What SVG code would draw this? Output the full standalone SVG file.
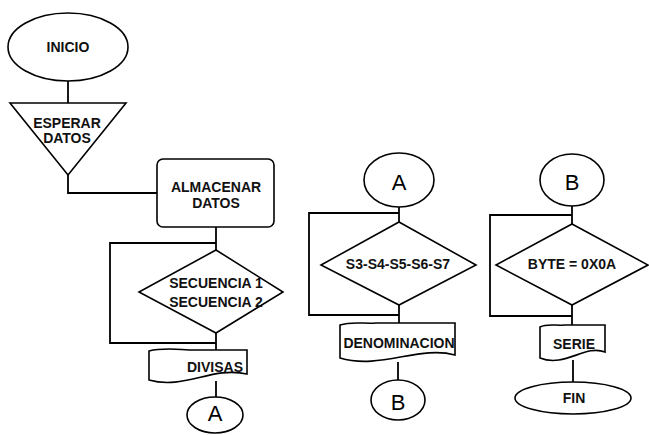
<svg xmlns="http://www.w3.org/2000/svg" width="649" height="435" viewBox="0 0 649 435">
<style>
.s{fill:#fff;stroke:#000;stroke-width:1.6}
.c{fill:none;stroke:#000;stroke-width:1.8}
.t{font-family:"Liberation Sans",Arial,sans-serif;font-size:14px;font-weight:bold;fill:#111;text-anchor:middle}
.b{font-family:"Liberation Sans",Arial,sans-serif;font-size:22px;fill:#000;text-anchor:middle}
</style>
<rect width="649" height="435" fill="#fff"/>
<g id="connectors">
<path class="c" d="M68,80 V103"/>
<path class="c" d="M68,175 V193 H157"/>
<path class="c" d="M216,227 V250"/>
<path class="c" d="M216,243 H110 V343 H216"/>
<path class="c" d="M216,333 V351"/>
<path class="c" d="M216,381 V397"/>
<path class="c" d="M399,207 V222"/>
<path class="c" d="M399,213 H309 V315 H399"/>
<path class="c" d="M399,305 V324"/>
<path class="c" d="M398,362 V380"/>
<path class="c" d="M572,206 V224"/>
<path class="c" d="M572,215 H490 V316 H572"/>
<path class="c" d="M572,305 V326"/>
<path class="c" d="M573,360 V382"/>
</g>
<g id="inicio"><ellipse class="s" cx="68" cy="47" rx="60" ry="34"/><text class="t" x="68" y="52">INICIO</text></g>
<g id="esperar"><polygon class="s" points="10,103 126,103 68,175"/><text class="t" x="67" y="128">ESPERAR</text><text class="t" x="67" y="143">DATOS</text></g>
<g id="almacenar"><rect class="s" x="157" y="159" width="117" height="68" rx="6"/><text class="t" x="216" y="192">ALMACENAR</text><text class="t" x="216" y="208">DATOS</text></g>
<g id="secuencia"><polygon class="s" points="216,250 283,292 216,333 139,292"/><text class="t" x="216" y="288">SECUENCIA 1</text><text class="t" x="216" y="307">SECUENCIA 2</text></g>
<g id="divisas"><path class="s" d="M149,351 C165,347 180,350 195,350 L247,350 L247,374 C212,366 184,390 149,380 Z"/><text class="t" x="215" y="372">DIVISAS</text></g>
<g id="a1"><ellipse class="s" cx="215" cy="415" rx="28" ry="18"/><text class="b" x="215" y="421">A</text></g>
<g id="a2"><ellipse class="s" cx="399" cy="180" rx="35" ry="27"/><text class="b" x="399" y="190">A</text></g>
<g id="s3s7"><polygon class="s" points="399,222 476,265 399,305 321,265"/><text class="t" x="398" y="269">S3-S4-S5-S6-S7</text></g>
<g id="denominacion"><path class="s" d="M340,325 C352,321 364,324 376,323 L455,323 L455,355 C420,345 380,370 340,358 Z"/><text class="t" x="399" y="348">DENOMINACION</text></g>
<g id="b1"><ellipse class="s" cx="398" cy="400" rx="27" ry="20"/><text class="b" x="398" y="410">B</text></g>
<g id="b2"><ellipse class="s" cx="572" cy="180" rx="32" ry="26"/><text class="b" x="572" y="190">B</text></g>
<g id="byte"><polygon class="s" points="572,224 648,265 572,305 496,265"/><text class="t" x="572" y="269">BYTE = 0X0A</text></g>
<g id="serie"><path class="s" d="M540,327 C548,323 556,326 564,325 L605,325 L605,352 C585,344 565,368 540,358 Z"/><text class="t" x="574" y="349">SERIE</text></g>
<g id="fin"><ellipse class="s" cx="573" cy="398" rx="58" ry="16"/><text class="t" x="574" y="403">FIN</text></g>
</svg>
